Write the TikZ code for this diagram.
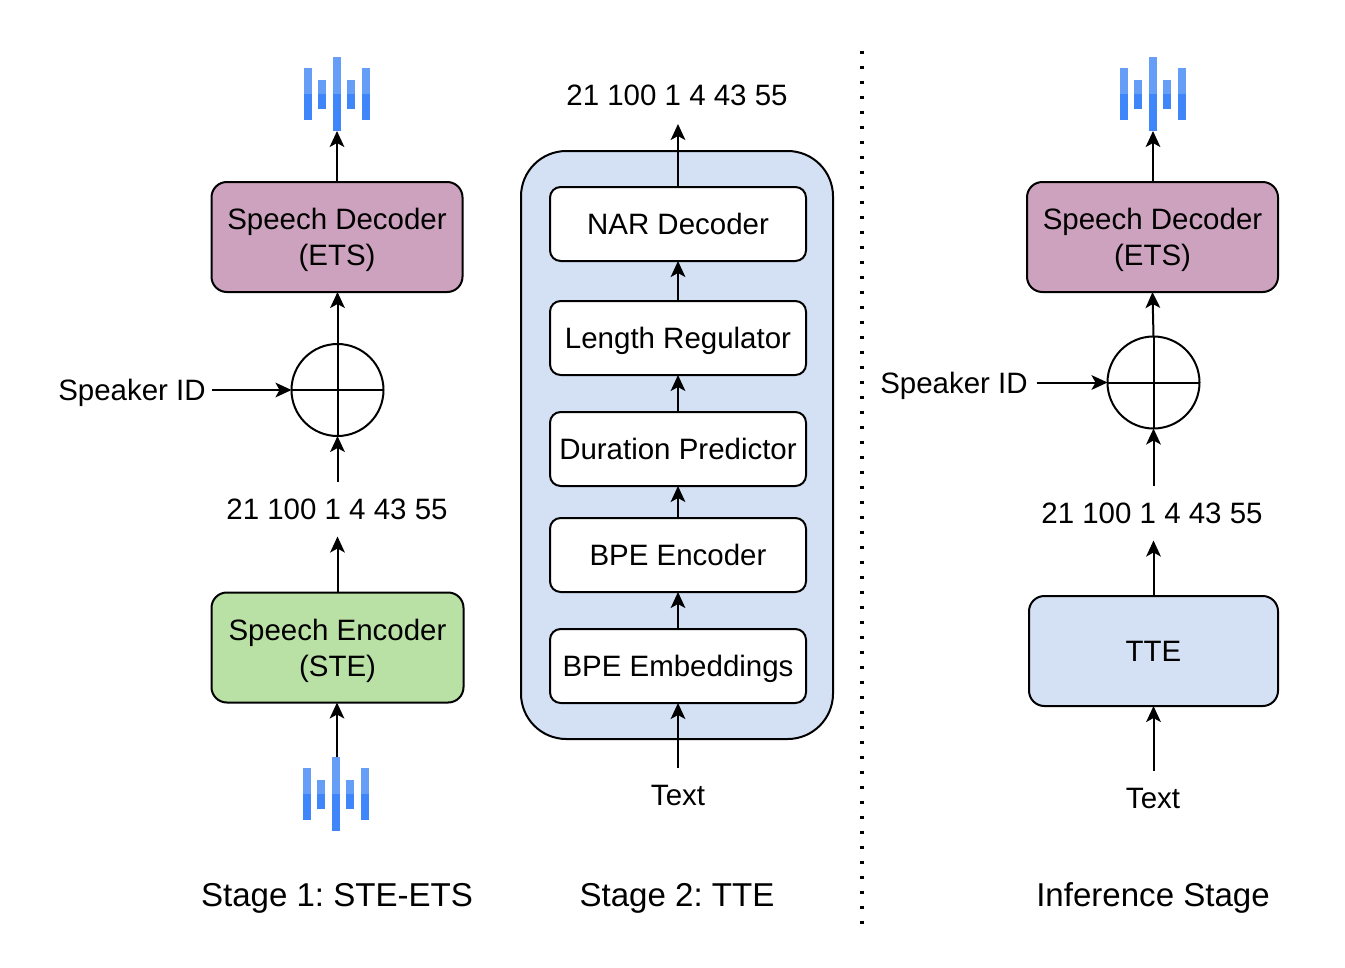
\documentclass[tikz,border=0pt]{standalone}
\usepackage{fontspec}
\setmainfont{Liberation Sans}
\usetikzlibrary{arrows.meta}
\definecolor{purplebox}{HTML}{CDA2BE}
\definecolor{greenbox}{HTML}{B9E0A5}
\definecolor{bluebox}{HTML}{D4E1F5}
\definecolor{wavelight}{HTML}{669DF6}
\definecolor{wavedark}{HTML}{3F86FA}
\tikzset{
  every node/.style={outer sep=0pt,inner sep=0pt},
  labelfont/.style={font=\fontsize{22.1}{27}\selectfont\frenchspacing,text height=15.75pt,text depth=0pt},
  boxbase/.style={draw=black,line width=1.5pt,rounded corners=11.5pt,align=center,labelfont},
  twoline/.style={text height=42.75pt},
  bigbox/.style={boxbase,minimum width=251*0.75pt,minimum height=110*0.75pt},
  innerbox/.style={draw=black,fill=white,line width=1.5pt,rounded corners=8pt,align=center,labelfont,minimum width=256*0.75pt,minimum height=74*0.75pt},
  container/.style={draw=black,fill=bluebox,line width=1.5pt,rounded corners=34pt,minimum width=312*0.75pt,minimum height=588*0.75pt},
  mixer/.style={draw=black,line width=1.5pt,circle,minimum size=92*0.75pt},
  numlabel/.style={labelfont,minimum height=55*0.75pt},
  txtlabel/.style={labelfont},
  caption/.style={font=\fontsize{24.8}{30}\selectfont\frenchspacing,text height=17.7pt,text depth=0pt},
  wavebox/.style={minimum width=67*0.75pt,minimum height=74*0.75pt},
  flow/.style={line width=1.5pt,-{Stealth[length=12pt,width=11pt,inset=3pt]}},
  plain/.style={line width=1.5pt},
}
\newcommand{\wavebars}[2]{%
  \foreach \dx/\ya/\yb in {-33.5/-26/26,-19/-14/15,-4.5/-37/37,10/-14/15,24.5/-26/26}{%
    \fill[wavelight] (#1+\dx,#2+\ya) rectangle (#1+\dx+8,#2);
    \fill[wavedark] (#1+\dx,#2) rectangle (#1+\dx+8,#2+\yb);
  }}
\begin{document}
\begin{tikzpicture}[x=0.75pt,y=-0.75pt]
\useasboundingbox (0,0) rectangle (1345,967);
% left column
\node[wavebox] (w1) at (337,94) {};
\wavebars{337}{94}
\node[bigbox,twoline,fill=purplebox] (dec1) at (337,237) {Speech Decoder\\(ETS)};
\node[mixer] (mix1) at (337.5,390) {};
\node[txtlabel,inner xsep=6*0.75pt] (spk1) at (132,390) {Speaker ID};
\node[numlabel] (num1) at (337,509) {21 100 1 4 43 55};
\node[bigbox,twoline,fill=greenbox,minimum width=252*0.75pt] (enc1) at (337.5,647.5) {Speech Encoder\\(STE)};
\node[wavebox] (w2) at (337,794) {};
\wavebars{336}{794}
\node[caption] (cap1) at (337,895) {Stage 1: STE-ETS};
\draw[flow] (dec1.north) -- (w1.south);
\draw[flow] (mix1.north) -- (mix1.north |- dec1.south);
\draw[plain] (mix1.west) -- (mix1.east);
\draw[plain] (mix1.north) -- (mix1.south);
\draw[flow] (spk1.east) -- (mix1.west);
\draw[flow] (mix1.south |- num1.north) -- (mix1.south);
\draw[flow] (enc1.north) -- (enc1.north |- num1.south);
\draw[flow] (w2.north) -- (w2.north |- enc1.south);
% middle column
\node[container] (tte) at (677,445) {};
\node[innerbox] (nar) at (678,224) {NAR Decoder};
\node[innerbox] (len) at (678,338) {Length Regulator};
\node[innerbox] (dur) at (678,449) {Duration Predictor};
\node[innerbox] (bpe) at (678,555) {BPE Encoder};
\node[innerbox] (emb) at (678,666) {BPE Embeddings};
\node[numlabel] (num2) at (677,95) {21 100 1 4 43 55};
\coordinate (top2) at (678,124);
\node[txtlabel,minimum height=54*0.75pt] (txt2) at (678,795) {Text};
\node[caption] (cap2) at (677,895) {Stage 2: TTE};
\draw[flow] (nar.north) -- (top2);
\draw[flow] (len.north) -- (nar.south);
\draw[flow] (dur.north) -- (len.south);
\draw[flow] (bpe.north) -- (dur.south);
\draw[flow] (emb.north) -- (bpe.south);
\draw[flow] (txt2.north) -- (emb.south);
% separator
\coordinate (sepa) at (862,50.5);
\coordinate (sepb) at (862,923.5);
\draw[line width=2.6pt,dash pattern=on 2.6pt off 8.65pt] (sepa) -- (sepb);
% right column
\node[wavebox] (w3) at (1153,94) {};
\wavebars{1153}{94}
\node[bigbox,twoline,fill=purplebox] (dec3) at (1152.5,237) {Speech Decoder\\(ETS)};
\node[mixer] (mix3) at (1153.5,382.5) {};
\node[txtlabel,inner xsep=9*0.75pt] (spk3) at (954,382.5) {Speaker ID};
\node[numlabel] (num3) at (1152,513) {21 100 1 4 43 55};
\node[bigbox,fill=bluebox,minimum width=249*0.75pt] (tte3) at (1153.5,651) {TTE};
\node[txtlabel,minimum height=54*0.75pt] (txt3) at (1153,798) {Text};
\node[caption] (cap3) at (1153,895) {Inference Stage};
\draw[flow] (w3.south |- dec3.north) -- (w3.south);
\draw[flow] (mix3.north) -- (dec3.south);
\draw[plain] (mix3.west) -- (mix3.east);
\draw[plain] (mix3.north) -- (mix3.south);
\draw[flow] (spk3.east) -- (mix3.west);
\draw[flow] (mix3.south |- num3.north) -- (mix3.south);
\draw[flow] (tte3.north -| mix3.south) -- (mix3.south |- num3.south);
\draw[flow] (mix3.south |- txt3.north) -- (mix3.south |- tte3.south);
\end{tikzpicture}
\end{document}
